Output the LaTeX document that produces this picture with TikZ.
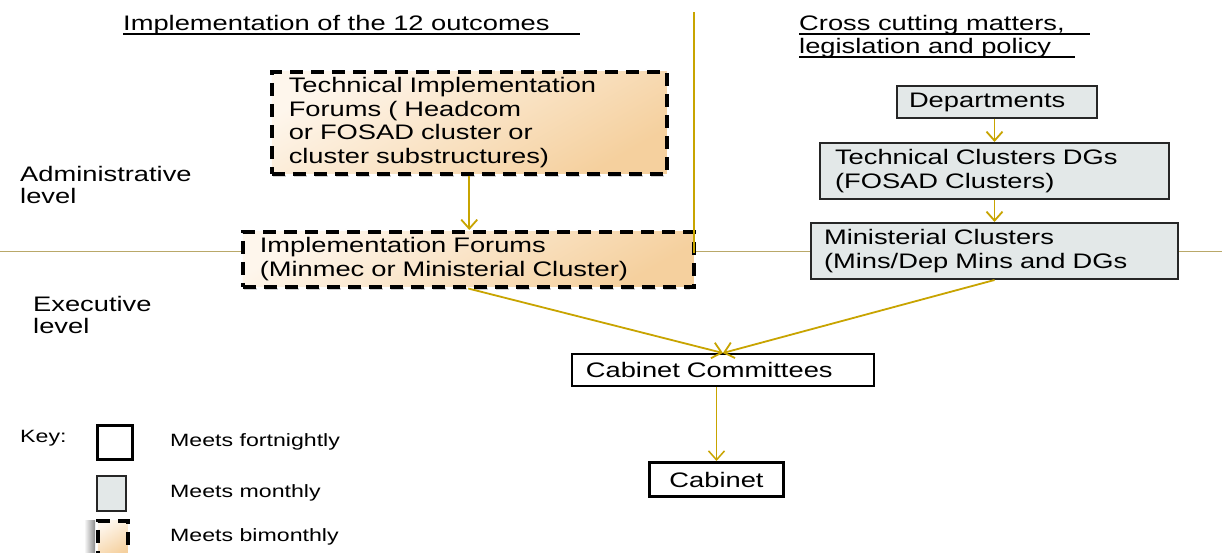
\documentclass[tikz,border=0pt]{standalone}
\usepackage{fontspec}
\setmainfont{Liberation Sans}[FakeStretch=1.3]
\usetikzlibrary{arrows.meta}
\definecolor{gold}{RGB}{200,164,0}
\definecolor{boxgray}{RGB}{227,232,232}
\definecolor{beigeA}{RGB}{254,246,236}
\definecolor{beigeB}{RGB}{245,208,158}
\definecolor{sepline}{RGB}{185,168,105}
\begin{document}
\begin{tikzpicture}[x=1pt,y=-1pt,
  every node/.style={font=\fontsize{21}{23.5}\selectfont, inner ysep=2pt},
  bimbox/.style={draw=black, line width=3.5pt, dash pattern=on 13pt off 8pt,
    top color=beigeA, bottom color=beigeB, shading angle=30, anchor=north west, align=left},
  monbox/.style={draw=black!85, line width=2pt, fill=boxgray, anchor=north west, align=left},
  fortbox/.style={draw=black, line width=2pt, fill=white, anchor=north west, align=left},
  arr/.style={draw=gold, line width=1.8pt, -{Straight Barb[length=9pt,width=16pt]}},
  shadowline/.style={draw=black!18, line width=2.5pt, dash pattern=on 13pt off 8pt},
  lbl/.style={anchor=base west, inner sep=0pt},
  keylbl/.style={anchor=base west, inner sep=0pt, font=\fontsize{17.8}{20}\selectfont}]
\useasboundingbox (0,0) rectangle (1222,552);
\fill[white] (0,0) rectangle (1222,552);

% separator
\coordinate (sl) at (0,251);
\coordinate (sr) at (1222,251);
\draw[sepline, line width=0.8pt] (sl) -- (sr);

% headings
\node[lbl] (h1) at (123,30) {Implementation of the 12 outcomes};
\coordinate (u1a) at (123,34); \coordinate (u1b) at (580,34);
\draw[line width=1.5pt] (u1a) -- (u1b);
\node[lbl] (h2) at (799,30) {Cross cutting matters,};
\coordinate (u2a) at (799,34); \coordinate (u2b) at (1090,34);
\draw[line width=1.5pt] (u2a) -- (u2b);
\node[lbl] (h3) at (799,53) {legislation and policy};
\coordinate (u3a) at (799,57); \coordinate (u3b) at (1075,57);
\draw[line width=1.5pt] (u3a) -- (u3b);

% level labels
\node[lbl] (adm1) at (20,181) {Administrative};
\node[lbl] (adm2) at (20,203) {level};
\node[lbl] (exe1) at (33,311) {Executive};
\node[lbl] (exe2) at (33,333) {level};

% shadows of dashed boxes
\coordinate (s1a) at (273,176); \coordinate (s1b) at (665,176);
\draw[shadowline] (s1a) -- (s1b);
\coordinate (s2a) at (244,289); \coordinate (s2b) at (690,289);
\draw[shadowline] (s2a) -- (s2b);

% left column
\node[bimbox, minimum width=395pt, minimum height=102pt, text width=361pt, inner xsep=17pt] (tif) at (270,70)
  {Technical Implementation\\Forums ( Headcom\\or FOSAD cluster or\\cluster substructures)};
\node[bimbox, minimum width=451pt, minimum height=55pt, text width=417pt, inner xsep=17pt] (impl) at (241,230)
  {Implementation Forums\\(Minmec or Ministerial Cluster)};

% right column
\node[monbox, minimum width=200pt, minimum height=32pt, text width=176pt, inner xsep=12pt] (dep) at (896,85) {Departments};
\node[monbox, minimum width=349pt, minimum height=56pt, text width=319pt, inner xsep=15pt] (tc) at (819,142)
  {Technical Clusters DGs\\(FOSAD Clusters)};
\node[monbox, minimum width=367pt, minimum height=56pt, text width=341pt, inner xsep=13pt] (mc) at (810,222)
  {Ministerial Clusters\\(Mins/Dep Mins and DGs};

% executive
\node[fortbox, line width=1.8pt, minimum width=302pt, minimum height=32pt, text width=274pt, inner xsep=14pt] (cc) at (571,353)
  {Cabinet Committees};
\node[fortbox, line width=3pt, minimum width=134pt, minimum height=34pt, align=center] (cab) at (648,461) {Cabinet};

% vertical divider
\coordinate (vtop) at (694,12);
\coordinate (vbot) at (694,253);
\draw[gold, line width=2pt] (vtop) -- (vbot);

% connectors
\draw[arr] (tif.south) -- (tif.south |- impl.north);
\draw[arr] (tc.north |- dep.south) -- (tc.north);
\draw[arr] (tc.south) -- (mc.north);
\draw[arr] (impl.south) -- (cc.north);
\draw[arr] (mc.south) -- (cc.north);
\draw[arr, line width=1.5pt] (cab.north |- cc.south) -- (cab.north);

% key
\node[keylbl] (key) at (20,442) {Key:};
\node[fortbox, line width=2.5pt, minimum width=35pt, minimum height=34pt] (k1) at (96,424) {};
\node[keylbl] (k1t) at (170,446) {Meets fortnightly};
\node[monbox, minimum width=29pt, minimum height=35pt] (k2) at (96,475) {};
\node[keylbl] (k2t) at (170,497) {Meets monthly};
\shade[left color=white, right color=black!45] (84,520) rectangle (95,552);
\node[bimbox, minimum width=30pt, minimum height=36pt] (k3) at (96,519) {};
\node[keylbl] (k3t) at (170,541) {Meets bimonthly};
\end{tikzpicture}
\end{document}
